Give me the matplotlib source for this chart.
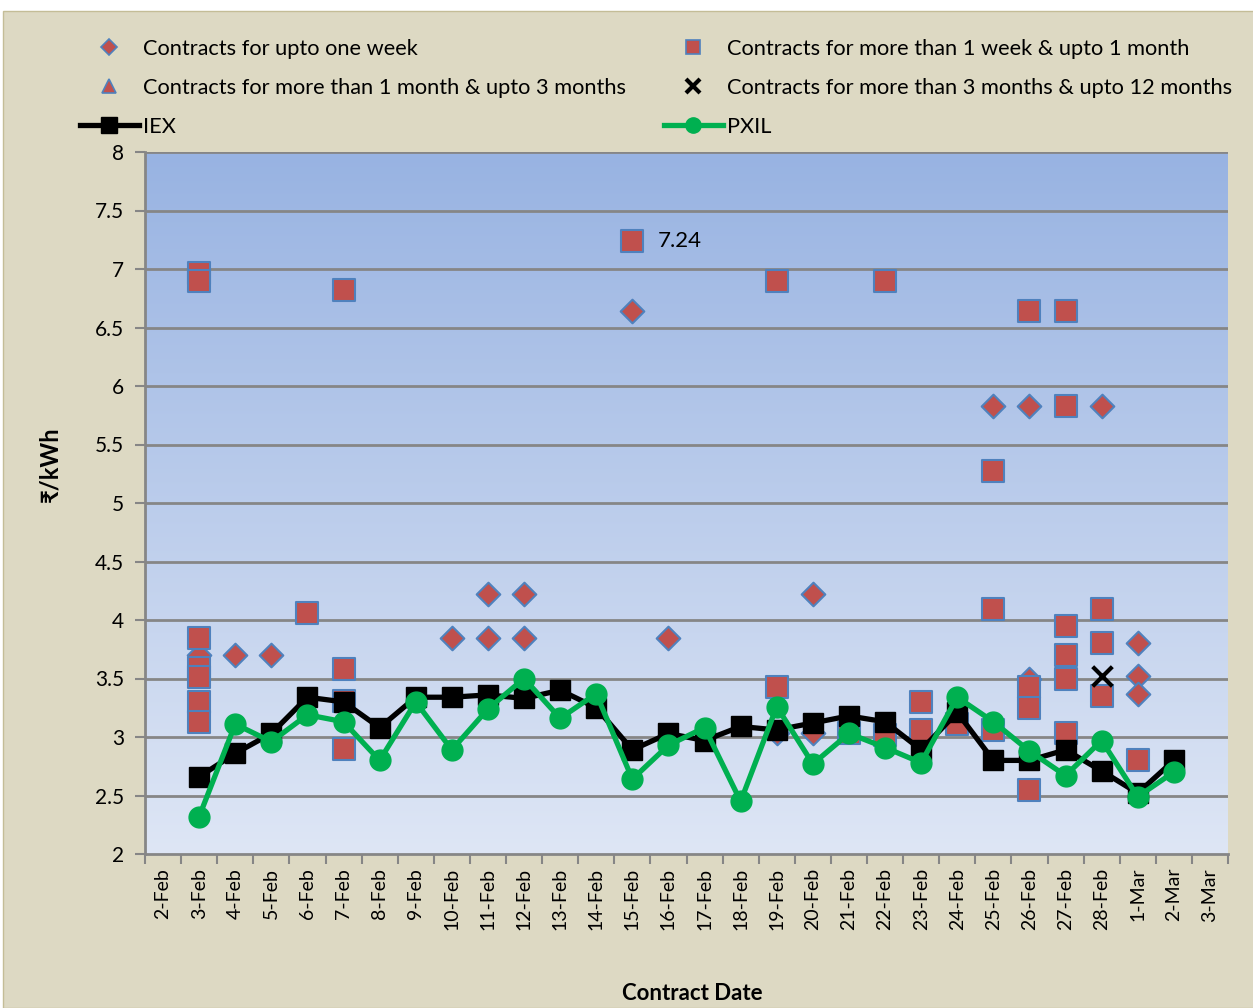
import numpy as np
import matplotlib
matplotlib.use("Agg")
import matplotlib.pyplot as plt
from matplotlib.lines import Line2D
from matplotlib.patches import Rectangle

plt.rcParams['font.family'] = ['Lato', 'DejaVu Sans']

# category axis
dates = ['2-Feb', '3-Feb', '4-Feb', '5-Feb', '6-Feb', '7-Feb', '8-Feb', '9-Feb',
         '10-Feb', '11-Feb', '12-Feb', '13-Feb', '14-Feb', '15-Feb', '16-Feb',
         '17-Feb', '18-Feb', '19-Feb', '20-Feb', '21-Feb', '22-Feb', '23-Feb',
         '24-Feb', '25-Feb', '26-Feb', '27-Feb', '28-Feb', '1-Mar', '2-Mar', '3-Mar']

# exchange prices (None = no trade)
iex = [None, 2.66, 2.86, 3.03, 3.34, 3.30, 3.08, 3.34, 3.34, 3.36, 3.33, 3.40,
       3.25, 2.89, 3.03, 2.97, 3.09, 3.06, 3.12, 3.18, 3.13, 2.89, 3.21, 2.80,
       2.80, 2.89, 2.71, 2.52, 2.80, None]
pxil = [None, 2.32, 3.11, 2.96, 3.19, 3.13, 2.80, 3.30, 2.89, 3.24, 3.50, 3.16,
        3.37, 2.64, 2.93, 3.08, 2.45, 3.26, 2.77, 3.03, 2.91, 2.78, 3.34, 3.13,
        2.88, 2.67, 2.97, 2.49, 2.70, None]

# bilateral contracts
week_dates = ['3-Feb', '4-Feb', '5-Feb', '10-Feb', '11-Feb', '11-Feb', '12-Feb',
              '12-Feb', '15-Feb', '16-Feb', '19-Feb', '20-Feb', '20-Feb', '25-Feb',
              '26-Feb', '26-Feb', '28-Feb', '1-Mar', '1-Mar', '1-Mar']
week_vals = [3.70, 3.70, 3.70, 3.85, 4.22, 3.85, 4.22, 3.85, 6.64, 3.85, 3.03,
             4.22, 3.03, 5.83, 5.83, 3.50, 5.83, 3.80, 3.52, 3.37]

month_dates = ['3-Feb', '3-Feb', '3-Feb', '3-Feb', '3-Feb', '3-Feb', '3-Feb',
               '6-Feb', '7-Feb', '7-Feb', '7-Feb', '7-Feb', '15-Feb', '19-Feb',
               '19-Feb', '21-Feb', '22-Feb', '22-Feb', '23-Feb', '23-Feb', '24-Feb',
               '25-Feb', '25-Feb', '25-Feb', '26-Feb', '26-Feb', '26-Feb', '26-Feb',
               '27-Feb', '27-Feb', '27-Feb', '27-Feb', '27-Feb', '27-Feb',
               '28-Feb', '28-Feb', '28-Feb', '1-Mar']
month_vals = [6.97, 6.90, 3.85, 3.59, 3.51, 3.30, 3.13,
              4.06, 6.82, 3.58, 3.31, 2.90, 7.24, 6.90,
              3.43, 3.03, 6.90, 3.02, 3.30, 3.06, 3.11,
              5.27, 4.09, 3.06, 6.64, 3.43, 3.25, 2.55,
              6.64, 5.83, 3.95, 3.70, 3.50, 3.03,
              4.09, 3.80, 3.35, 2.80]

quarter_dates = []
quarter_vals = []

year_dates = ['28-Feb']
year_vals = [3.52]

idx = {d: i for i, d in enumerate(dates)}
x = np.arange(len(dates))

fill = '#C0504D'
edge = '#4F81BD'

fig = plt.figure(figsize=(12.53, 10.08), dpi=100, facecolor='white')
fig.add_artist(Rectangle((3 / 1253, 0), 1, 1 - 11 / 1008, transform=fig.transFigure,
                         facecolor='#DDD9C3', edgecolor='#C4BD97', lw=1, zorder=-10))
ax = fig.add_axes([145 / 1253, 1 - 854 / 1008, 1083 / 1253, 702 / 1008])
ax.set_facecolor('none')

# gradient plot area
grad = np.linspace(0, 1, 256).reshape(-1, 1)
top = np.array([152, 179, 226]) / 255
bot = np.array([222, 230, 245]) / 255
img = top + (bot - top) * grad[:, :, None]
ax.imshow(img, extent=(-0.5, len(dates) - 0.5, 2, 8), aspect='auto', zorder=0,
          origin='upper')

for yv in np.arange(2.5, 8.01, 0.5):
    ax.axhline(yv, color='#868686', lw=2, zorder=1)

ax.scatter([idx[d] for d in week_dates], week_vals, marker='D', s=145, c=fill,
           edgecolors=edge, linewidths=1.5, zorder=3)
ax.scatter([idx[d] for d in month_dates], month_vals, marker='s', s=260, c=fill,
           edgecolors=edge, linewidths=1.5, zorder=3)
ax.scatter([idx[d] for d in quarter_dates], quarter_vals, marker='^', s=150, c=fill,
           edgecolors=edge, linewidths=1.5, zorder=3)
ax.scatter([idx[d] for d in year_dates], year_vals, marker='x', s=200, c='black',
           linewidths=3, zorder=3)

iex_arr = np.array([np.nan if v is None else v for v in iex])
pxil_arr = np.array([np.nan if v is None else v for v in pxil])
ax.plot(x, iex_arr, color='black', lw=3.8, marker='s', ms=14, zorder=4)
ax.plot(x, pxil_arr, color='#00B050', lw=3.8, marker='o', ms=15, zorder=5)

ax.annotate('7.24', (idx['15-Feb'], 7.24), xytext=(18, 0), textcoords='offset points',
            va='center', ha='left', fontsize=16)

ax.set_xlim(-0.5, len(dates) - 0.5)
ax.set_ylim(2, 8)
ax.set_yticks(np.arange(2, 8.01, 0.5))
ax.set_yticklabels(['2', '2.5', '3', '3.5', '4', '4.5', '5', '5.5', '6', '6.5',
                    '7', '7.5', '8'], fontsize=15)
ax.set_xticks(x)
ax.set_xticklabels(dates, rotation=90, fontsize=14)
ax.set_xticks(np.arange(-0.5, len(dates), 1), minor=True)
ax.tick_params(axis='x', which='major', length=0, pad=10)
ax.tick_params(axis='x', which='minor', length=7, width=1.5, color='#868686', direction='out')
ax.tick_params(axis='y', length=7, width=1.5, color='#868686', direction='out', pad=8)
for s in ['top', 'right']:
    ax.spines[s].set_visible(False)
for s in ['left', 'bottom']:
    ax.spines[s].set_color('#868686')
    ax.spines[s].set_linewidth(2)

ax.set_ylabel('₹/kWh', fontsize=17, fontweight='bold')
ax.yaxis.set_label_coords(-84 / 1083, (854 - 464) / 702)
ax.set_xlabel('Contract Date', fontsize=16, fontweight='bold')
ax.xaxis.set_label_coords((692 - 145) / 1083, -(993 - 854) / 702)
ax.xaxis.label.set_va('center')

h_week = Line2D([], [], ls='none', marker='D', ms=8, mfc=fill, mec=edge, mew=1.2)
h_month = Line2D([], [], ls='none', marker='s', ms=10, mfc=fill, mec=edge, mew=1.2)
h_quarter = Line2D([], [], ls='none', marker='^', ms=10, mfc=fill, mec=edge, mew=1.2)
h_year = Line2D([], [], ls='none', marker='x', ms=10, color='black', mew=3)
h_iex = Line2D([], [], color='black', lw=3.8, marker='s', ms=11)
h_pxil = Line2D([], [], color='#00B050', lw=3.8, marker='o', ms=11)

leg_kw = dict(frameon=False, fontsize=15.7, loc='upper left', handlelength=2.7,
              handletextpad=0.2, labelspacing=0.86, borderpad=0, borderaxespad=0)
leg1 = fig.legend([h_week, h_quarter, h_iex],
                  ['Contracts for upto one week',
                   'Contracts for more than 1 month & upto 3 months', 'IEX'],
                  bbox_to_anchor=(80 / 1253, 1 - 39 / 1008), **leg_kw)
leg2 = fig.legend([h_month, h_year, h_pxil],
                  ['Contracts for more than 1 week & upto 1 month',
                   'Contracts for more than 3 months & upto 12 months', 'PXIL'],
                  bbox_to_anchor=(664 / 1253, 1 - 39 / 1008), **leg_kw)

fig.savefig('out.png', dpi=100, facecolor=fig.get_facecolor())
